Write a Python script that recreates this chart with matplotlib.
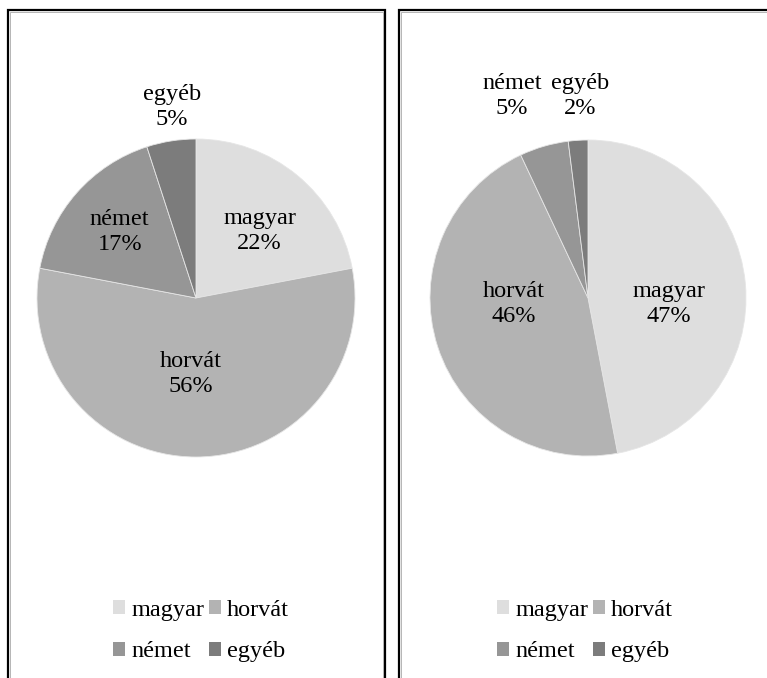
import matplotlib.pyplot as plt
from matplotlib.patches import Rectangle, Patch

plt.rcParams['font.family'] = ['Liberation Serif', 'DejaVu Serif']

# adatok
nyelvek = ['magyar', 'horvát', 'német', 'egyéb']
bal_ertekek = [22, 56, 17, 5]
jobb_ertekek = [47, 46, 5, 2]
szinek = ['#dedede', '#b3b3b3', '#969696', '#7c7c7c']

# címkék helye (sugár egységben, a középponthoz képest)
bal_cimke_hely = [(0.40, 0.42), (-0.03, -0.48), (-0.48, 0.415), (-0.15, 1.20)]
jobb_cimke_hely = [(0.51, -0.04), (-0.47, -0.04), (-0.48, 1.28), (-0.05, 1.28)]

W, H = 767, 678
fig = plt.figure(figsize=(W / 100, H / 100), dpi=100)

# keretek
for x0, x1 in [(8, 385), (399, 790)]:
    fig.patches.append(Rectangle((x0 / W, -0.05), (x1 - x0) / W, 1.05 - 10 / H,
                                 transform=fig.transFigure, fill=False,
                                 edgecolor='black', lw=1.6))
    fig.patches.append(Rectangle(((x0 + 2) / W, -0.05), (x1 - x0 - 4) / W, 1.05 - 12 / H,
                                 transform=fig.transFigure, fill=False,
                                 edgecolor='#aaaaaa', lw=0.6))


def kor(cx, cy, r, ertekek, helyek, leg_x):
    ax = fig.add_axes([(cx - r) / W, 1 - (cy + r) / H, 2 * r / W, 2 * r / H])
    ax.pie(ertekek, colors=szinek, startangle=90, counterclock=False,
           wedgeprops=dict(linewidth=0.6, edgecolor='#e6e6e6'))
    ax.set_xlim(-1, 1)
    ax.set_ylim(-1, 1)
    ax.axis('off')
    for nev, v, (x, y) in zip(nyelvek, ertekek, helyek):
        ax.text(x, y, f'{nev}\n{v}%', ha='center', va='center', fontsize=17.5,
                linespacing=1.25, clip_on=False)
    # legenda: sorfolytonos sorrend két oszlopban
    sorrend = [0, 2, 1, 3]
    handles = [Patch(facecolor=szinek[i], edgecolor='none') for i in sorrend]
    labels = [nyelvek[i] for i in sorrend]
    fig.legend(handles, labels, ncol=2, loc='center', bbox_to_anchor=(leg_x / W, 1 - 631 / H),
               frameon=False, fontsize=17.5, handlelength=0.5, handleheight=0.5,
               handletextpad=0.25, columnspacing=0.2, labelspacing=0.85)
    return ax


kor(196, 298, 159, bal_ertekek, bal_cimke_hely, 201)
kor(588, 298, 158, jobb_ertekek, jobb_cimke_hely, 585)

fig.savefig('out.png', dpi=100)
